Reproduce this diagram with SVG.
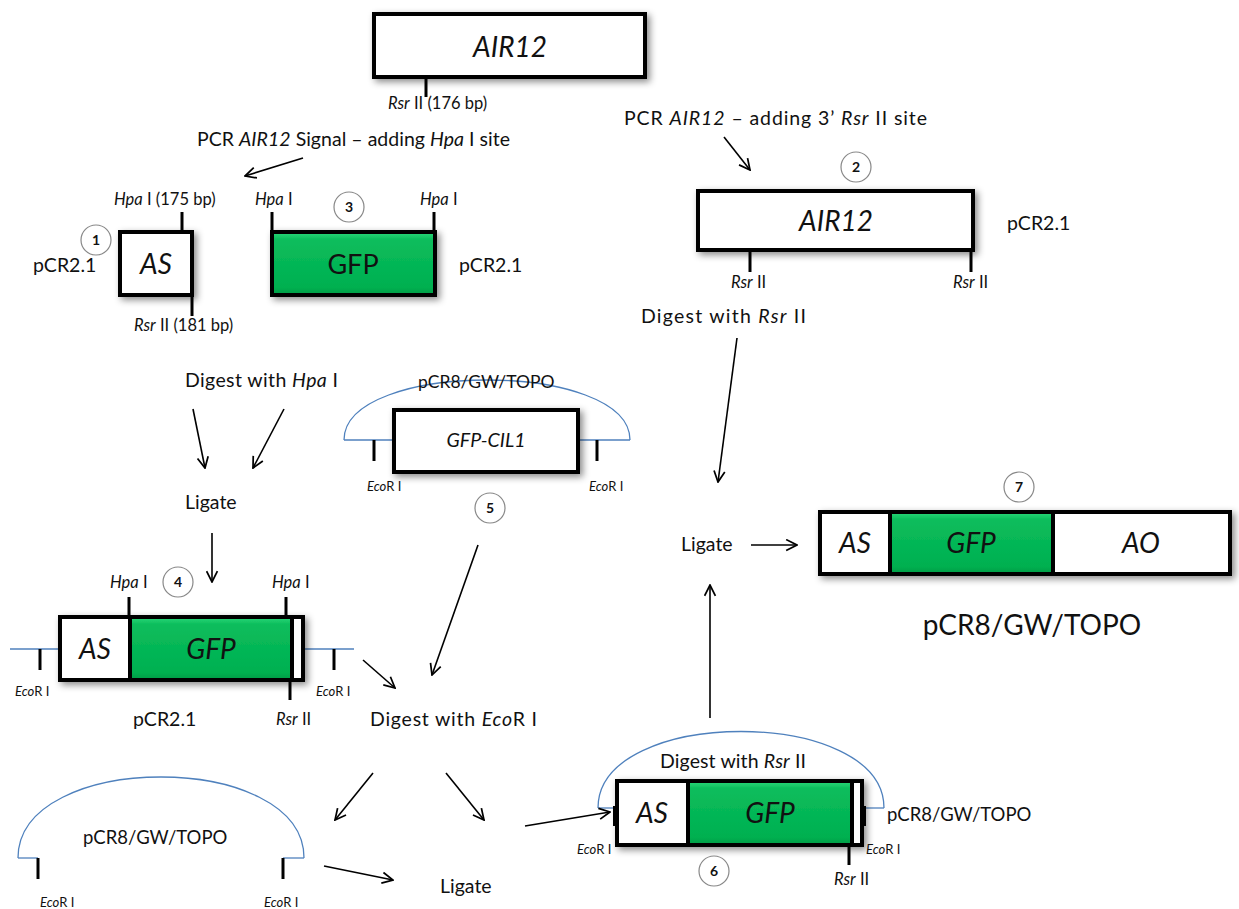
<svg xmlns="http://www.w3.org/2000/svg" width="1239" height="909" viewBox="0 0 1239 909">
  <defs>
    <filter id="shadow" x="-10%" y="-20%" width="130%" height="150%">
      <feDropShadow dx="3" dy="3" stdDeviation="3.5" flood-color="#000" flood-opacity="0.45"/>
    </filter>
    <linearGradient id="bevel" x1="0" y1="0" x2="0" y2="1">
      <stop offset="0" stop-color="#2fd97a"/>
      <stop offset="0.12" stop-color="#0bbd5c"/>
      <stop offset="0.88" stop-color="#00b050"/>
      <stop offset="1" stop-color="#009a45"/>
    </linearGradient>
    <marker id="arrow" viewBox="0 0 12 12" refX="11" refY="6" markerWidth="13" markerHeight="13" markerUnits="userSpaceOnUse" orient="auto">
      <path d="M1,1 L11,6 L1,11" fill="none" stroke="#000" stroke-width="1.6"/>
    </marker>
  </defs>
  <style>
    text { font-family: Lato, "Open Sans", "Liberation Sans", sans-serif; fill: #111; }
    .t { font-size: 19.5px; }
    .v { font-size: 18.5px; }
    .s { font-size: 16.5px; }
    .xs { font-size: 13px; }
    .big { font-size: 28px; text-anchor: middle; }
    .mid { font-size: 27px; text-anchor: middle; }
    .c { text-anchor: middle; }
    .box { fill: #fff; stroke: #000; stroke-width: 4; }
    .gfp { fill: url(#bevel); stroke: #000; stroke-width: 4; }
    .tick { stroke: #000; stroke-width: 3; }
    .vec { fill: none; stroke: #4f81bd; stroke-width: 1.3; }
    .num circle { fill: #fff; stroke: #888; stroke-width: 1.2; }
    .num text { font-size: 14px; font-weight: bold; text-anchor: middle; }
    .arr { stroke: #000; stroke-width: 1.6; fill: none; marker-end: url(#arrow); }
  </style>
  <rect width="1239" height="909" fill="#fff"/>

  <!-- genomic AIR12 -->
  <g id="air12-top">
    <rect class="box" x="374" y="14" width="271" height="63" filter="url(#shadow)"/>
    <text class="big" x="510" y="57" font-style="italic">AIR12</text>
    <line class="tick" x1="426" y1="77" x2="426" y2="97"/>
    <text class="s" x="388" y="109"><tspan font-style="italic">Rsr</tspan> II (176 bp)</text>
  </g>
  <text class="t" x="197" y="146" textLength="313" lengthAdjust="spacing">PCR <tspan font-style="italic">AIR12</tspan> Signal – adding <tspan font-style="italic">Hpa</tspan> I site</text>
  <text class="t" x="624" y="125" textLength="303" lengthAdjust="spacing">PCR <tspan font-style="italic">AIR12</tspan> – adding 3’ <tspan font-style="italic">Rsr</tspan> II site</text>

  <!-- 1: AS in pCR2.1 -->
  <g id="as-1">
    <text class="s" x="114" y="205"><tspan font-style="italic">Hpa</tspan> I (175 bp)</text>
    <line class="tick" x1="182" y1="212" x2="182" y2="232"/>
    <rect class="box" x="120" y="232" width="72" height="63" filter="url(#shadow)"/>
    <text class="big" x="156" y="274" font-style="italic">AS</text>
    <line class="tick" x1="192" y1="295" x2="192" y2="316"/>
    <text class="s" x="134" y="331"><tspan font-style="italic">Rsr</tspan> II (181 bp)</text>
    <text class="t" x="33" y="272">pCR2.1</text>
    <g class="num"><circle cx="96" cy="240" r="15"/><text x="96" y="245">1</text></g>
  </g>

  <!-- 3: GFP in pCR2.1 -->
  <g id="gfp-3">
    <text class="s" x="255" y="205"><tspan font-style="italic">Hpa</tspan> I</text>
    <text class="s" x="420" y="205"><tspan font-style="italic">Hpa</tspan> I</text>
    <line class="tick" x1="272" y1="212" x2="272" y2="232"/>
    <line class="tick" x1="434" y1="212" x2="434" y2="232"/>
    <rect class="gfp" x="272" y="232" width="163" height="63" filter="url(#shadow)"/>
    <text class="mid" x="353" y="274">GFP</text>
    <text class="t" x="459" y="272">pCR2.1</text>
    <g class="num"><circle cx="349" cy="207" r="15"/><text x="349" y="212">3</text></g>
  </g>

  <!-- 2: AIR12 in pCR2.1 -->
  <g id="air12-2">
    <g class="num"><circle cx="856" cy="167" r="15"/><text x="856" y="172">2</text></g>
    <rect class="box" x="698" y="191" width="275" height="59" filter="url(#shadow)"/>
    <text class="big" x="836" y="231" font-style="italic">AIR12</text>
    <line class="tick" x1="750" y1="250" x2="750" y2="272"/>
    <line class="tick" x1="971" y1="250" x2="971" y2="272"/>
    <text class="s" x="731" y="288"><tspan font-style="italic">Rsr</tspan> II</text>
    <text class="s" x="953" y="288"><tspan font-style="italic">Rsr</tspan> II</text>
    <text class="t" x="1007" y="230">pCR2.1</text>
  </g>
  <text class="t" x="641" y="323" textLength="165" lengthAdjust="spacing">Digest with <tspan font-style="italic">Rsr</tspan> II</text>

  <text class="t" x="185" y="387" textLength="153" lengthAdjust="spacing">Digest with <tspan font-style="italic">Hpa</tspan> I</text>
  <text class="t" x="185" y="509">Ligate</text>

  <!-- 5: GFP-CIL1 in pCR8/GW/TOPO -->
  <g id="gfp-cil1-5">
    <path class="vec" d="M344,440 C344,360 630,360 630,440"/>
    <line class="vec" x1="344" y1="440" x2="394" y2="440"/>
    <line class="vec" x1="578" y1="440" x2="630" y2="440"/>
    <text x="418" y="388" font-size="17.5">pCR8/GW/TOPO</text>
    <rect class="box" x="394" y="410" width="184" height="62" filter="url(#shadow)"/>
    <text class="t c" x="486" y="447" font-style="italic">GFP-CIL1</text>
    <line class="tick" x1="374" y1="440" x2="374" y2="461"/>
    <line class="tick" x1="597" y1="440" x2="597" y2="461"/>
    <text class="xs" x="367" y="491"><tspan font-style="italic">Eco</tspan>R I</text>
    <text class="xs" x="589" y="491"><tspan font-style="italic">Eco</tspan>R I</text>
    <g class="num"><circle cx="490" cy="508" r="15"/><text x="490" y="513">5</text></g>
  </g>

  <!-- 4: AS-GFP in pCR2.1 -->
  <g id="as-gfp-4">
    <line class="vec" x1="10" y1="649" x2="60" y2="649"/>
    <line class="vec" x1="305" y1="649" x2="354" y2="649"/>
    <g filter="url(#shadow)">
      <rect class="box" x="60" y="617" width="243" height="63"/>
      <rect class="gfp" x="130" y="617" width="162" height="63"/>
    </g>
    <text class="big" x="95" y="659" font-style="italic">AS</text>
    <text class="big" x="211" y="659" font-style="italic">GFP</text>
    <line class="tick" x1="129" y1="597" x2="129" y2="617"/>
    <line class="tick" x1="286" y1="597" x2="286" y2="617"/>
    <line class="tick" x1="290" y1="680" x2="290" y2="700"/>
    <line class="tick" x1="40" y1="649" x2="40" y2="670"/>
    <line class="tick" x1="334" y1="649" x2="334" y2="670"/>
    <text class="s" x="110" y="588"><tspan font-style="italic">Hpa</tspan> I</text>
    <text class="s" x="272" y="588"><tspan font-style="italic">Hpa</tspan> I</text>
    <g class="num"><circle cx="178" cy="582" r="15"/><text x="178" y="587">4</text></g>
    <text class="xs" x="15" y="696"><tspan font-style="italic">Eco</tspan>R I</text>
    <text class="xs" x="316" y="696"><tspan font-style="italic">Eco</tspan>R I</text>
    <text class="t" x="133" y="726">pCR2.1</text>
    <text class="s" x="276" y="725"><tspan font-style="italic">Rsr</tspan> II</text>
  </g>

  <text class="t" x="370" y="726" textLength="167" lengthAdjust="spacing">Digest with <tspan font-style="italic">Eco</tspan>R I</text>

  <!-- linear pCR8/GW/TOPO backbone -->
  <g id="backbone">
    <path class="vec" d="M18,858 C18,750 304,750 304,858"/>
    <line class="vec" x1="18" y1="858" x2="38" y2="858"/>
    <line class="vec" x1="283" y1="858" x2="304" y2="858"/>
    <line class="tick" x1="38" y1="858" x2="38" y2="879"/>
    <line class="tick" x1="283" y1="858" x2="283" y2="879"/>
    <text class="v" x="83" y="844">pCR8/GW/TOPO</text>
    <text class="xs" x="40" y="907"><tspan font-style="italic">Eco</tspan>R I</text>
    <text class="xs" x="264" y="907"><tspan font-style="italic">Eco</tspan>R I</text>
  </g>
  <text class="t" x="440" y="893">Ligate</text>

  <!-- 6: AS-GFP in pCR8/GW/TOPO -->
  <g id="as-gfp-6">
    <path class="vec" d="M598,808 C598,706 884,706 884,808"/>
    <line class="vec" x1="598" y1="808" x2="614" y2="808"/>
    <line class="vec" x1="866" y1="808" x2="884" y2="808"/>
    <text class="t" x="660" y="768" textLength="146" lengthAdjust="spacing">Digest with <tspan font-style="italic">Rsr</tspan> II</text>
    <g filter="url(#shadow)">
      <rect class="box" x="617" y="781" width="245" height="64"/>
      <rect class="gfp" x="688" y="781" width="164" height="64"/>
    </g>
    <text class="big" x="652" y="823" font-style="italic">AS</text>
    <text class="big" x="770" y="823" font-style="italic">GFP</text>
    <line x1="615" y1="806" x2="615" y2="826" stroke="#000" stroke-width="4"/>
    <line x1="864" y1="806" x2="864" y2="826" stroke="#000" stroke-width="4"/>
    <line class="tick" x1="849" y1="845" x2="849" y2="865"/>
    <text class="xs" x="577" y="854"><tspan font-style="italic">Eco</tspan>R I</text>
    <text class="xs" x="866" y="854"><tspan font-style="italic">Eco</tspan>R I</text>
    <g class="num"><circle cx="714" cy="871" r="15"/><text x="714" y="876">6</text></g>
    <text class="s" x="834" y="885"><tspan font-style="italic">Rsr</tspan> II</text>
    <text class="v" x="887" y="821">pCR8/GW/TOPO</text>
  </g>

  <text class="t" x="681" y="551">Ligate</text>

  <!-- 7: final AS-GFP-AO in pCR8/GW/TOPO -->
  <g id="final-7">
    <g class="num"><circle cx="1019" cy="487" r="15"/><text x="1019" y="492">7</text></g>
    <g filter="url(#shadow)">
      <rect class="box" x="820" y="512" width="410" height="62"/>
      <rect class="gfp" x="890" y="512" width="163" height="62"/>
    </g>
    <text class="big" x="855" y="553" font-style="italic">AS</text>
    <text class="big" x="971" y="553" font-style="italic">GFP</text>
    <text class="big" x="1141" y="553" font-style="italic">AO</text>
    <text x="1032" y="635" font-size="28" text-anchor="middle">pCR8/GW/TOPO</text>
  </g>

  <!-- connectors -->
  <g id="connectors">
    <line class="arr" x1="303" y1="158" x2="245" y2="176"/>
    <line class="arr" x1="724" y1="137" x2="750" y2="170"/>
    <line class="arr" x1="737" y1="338" x2="718" y2="482"/>
    <line class="arr" x1="193" y1="409" x2="205" y2="468"/>
    <line class="arr" x1="284" y1="409" x2="253" y2="468"/>
    <line class="arr" x1="212" y1="533" x2="212" y2="582"/>
    <line class="arr" x1="363" y1="660" x2="395" y2="688"/>
    <line class="arr" x1="478" y1="545" x2="432" y2="675"/>
    <line class="arr" x1="373" y1="773" x2="335" y2="820"/>
    <line class="arr" x1="446" y1="773" x2="484" y2="820"/>
    <line class="arr" x1="324" y1="866" x2="393" y2="880"/>
    <line class="arr" x1="525" y1="826" x2="610" y2="812"/>
    <line class="arr" x1="710" y1="718" x2="710" y2="585"/>
    <line class="arr" x1="751" y1="545" x2="797" y2="545"/>
  </g>
</svg>
